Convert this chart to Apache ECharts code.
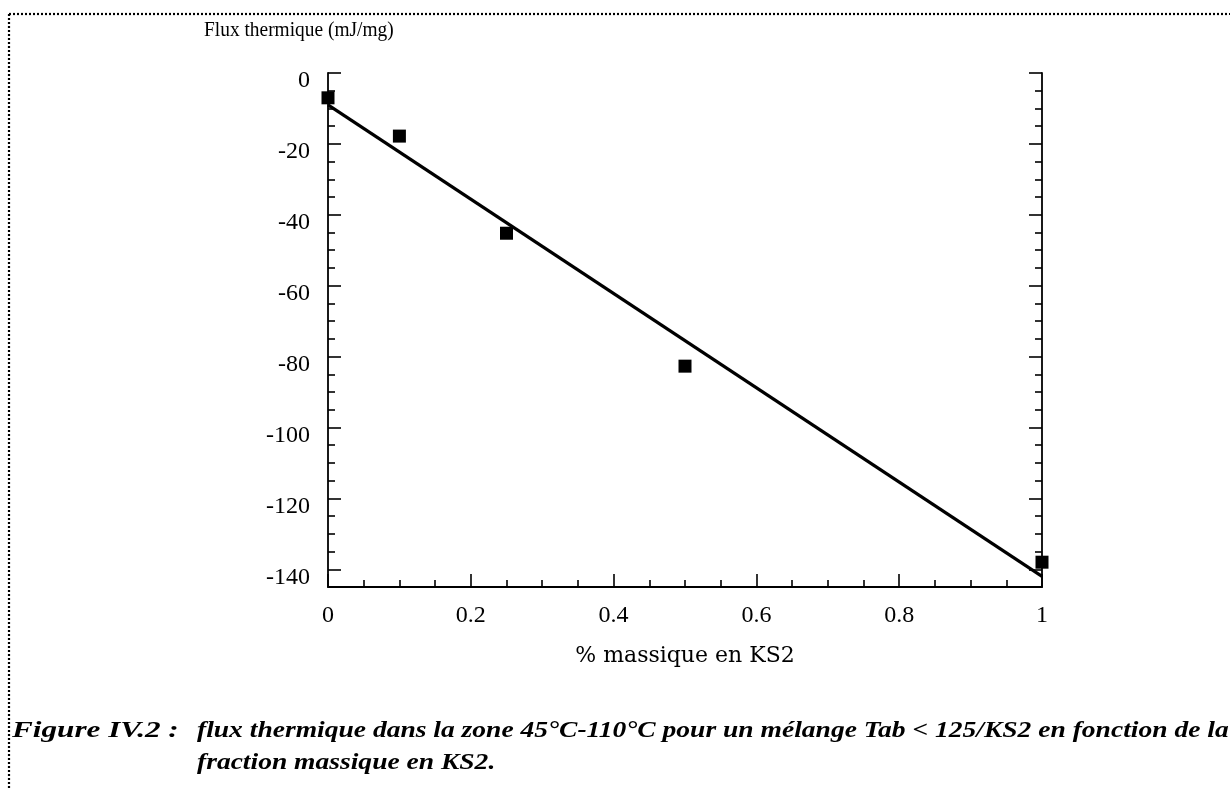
<!DOCTYPE html>
<html>
<head>
<meta charset="utf-8">
<script src="https://cdn.jsdelivr.net/npm/echarts@6/dist/echarts.min.js"></script>
<style>
  html, body { margin: 0; padding: 0; background: #fff; }
  #chart { width: 1230px; height: 788px; }
</style>
</head>
<body>
<div id="chart"></div>
<script>
// ---- data ----
const massFraction = [0, 0.1, 0.25, 0.5, 1];
const heatFlux = [-7, -17.8, -45.2, -82.7, -138];
const fitX = [0, 1];
const fitY = [-9, -142];
const yMajorTicks = [0, -20, -40, -60, -80, -100, -120, -140];
const xTickLabels = ['0', '0.2', '0.4', '0.6', '0.8', '1'];
const yTitle = 'Flux thermique (mJ/mg)';
const xTitle = '% massique en KS2';
const captionLabel = 'Figure IV.2 :';
const captionLine1 = 'flux thermique dans la zone 45°C-110°C pour un mélange Tab < 125/KS2 en fonction de la';
const captionLine2 = 'fraction massique en KS2.';

// minor ticks every 5 units (axis styling)
const yMinorTicks = [];
for (let v = -5; v > -145; v -= 5) { if (v % 20 !== 0) yMinorTicks.push(v); }

const TICK_FONT = 'Liberation Serif';
const TITLE_FONT = 'DejaVu Serif';

const chart = echarts.init(document.getElementById('chart'), null, { renderer: 'canvas' });

function makeY(position, ticks, len, showLine, showLabels) {
  return {
    type: 'value', min: -145, max: 0,
    position: position,
    splitLine: { show: false },
    axisLine: { show: showLine, lineStyle: { color: '#000', width: 1.8 } },
    axisTick: { show: true, inside: true, length: len, customValues: ticks,
                lineStyle: { color: '#000', width: 1.6 } },
    axisLabel: showLabels ? {
      show: true, customValues: ticks, margin: 18,
      fontFamily: TICK_FONT, fontSize: 24, color: '#000',
      verticalAlign: 'top', lineHeight: 16
    } : { show: false }
  };
}

const option = {
  backgroundColor: '#fff',
  animation: false,
  grid: { left: 328, right: 188, top: 73, bottom: 201, containLabel: false },
  xAxis: {
    type: 'value', min: 0, max: 1, interval: 0.2,
    name: xTitle, nameLocation: 'middle', nameGap: 58,
    nameTextStyle: { fontFamily: TITLE_FONT, fontSize: 22, color: '#000' },
    splitLine: { show: false },
    axisLine: { show: true, onZero: false, lineStyle: { color: '#000', width: 1.8 } },
    axisTick: { show: true, inside: true, length: 13, lineStyle: { color: '#000', width: 1.6 } },
    minorTick: { show: true, splitNumber: 4, length: 7, lineStyle: { color: '#000', width: 1.6 } },
    axisLabel: {
      margin: 17, fontFamily: TICK_FONT, fontSize: 24, color: '#000',
      formatter: function (v) { return xTickLabels[Math.round(v / 0.2)]; }
    }
  },
  yAxis: [
    makeY('left', yMajorTicks, 13, true, true),
    makeY('left', yMinorTicks, 7, false, false),
    makeY('right', yMajorTicks, 13, true, false),
    makeY('right', yMinorTicks, 7, false, false)
  ],
  series: [
    {
      type: 'line', yAxisIndex: 0, z: 2,
      data: fitX.map((x, i) => [x, fitY[i]]),
      showSymbol: false, symbol: 'none',
      lineStyle: { color: '#000', width: 3.2 },
      silent: true
    },
    {
      type: 'scatter', yAxisIndex: 0, z: 3,
      data: massFraction.map((x, i) => [x, heatFlux[i]]),
      symbol: 'rect', symbolSize: 13,
      itemStyle: { color: '#000', opacity: 1 }
    }
  ],
  graphic: [
    { type: 'line', shape: { x1: 9, y1: 14, x2: 1230, y2: 14 },
      style: { stroke: '#000', lineWidth: 2.2, lineDash: [2, 2] } },
    { type: 'line', shape: { x1: 9, y1: 14, x2: 9, y2: 788 },
      style: { stroke: '#000', lineWidth: 2.2, lineDash: [2, 2] } },
    { type: 'text', x: 204, y: 31, scaleX: 0.97,
      style: { text: yTitle, font: '20px "Liberation Serif"', fill: '#000', verticalAlign: 'middle', align: 'left' } },
    { type: 'text', x: 12, y: 731, scaleX: 1.3,
      style: { text: captionLabel, font: 'italic bold 24px "Liberation Serif"', fill: '#000', verticalAlign: 'middle', align: 'left' } },
    { type: 'text', x: 197, y: 731, scaleX: 1.147,
      style: { text: captionLine1, font: 'italic bold 24px "Liberation Serif"', fill: '#000', verticalAlign: 'middle', align: 'left' } },
    { type: 'text', x: 197, y: 763, scaleX: 1.147,
      style: { text: captionLine2, font: 'italic bold 24px "Liberation Serif"', fill: '#000', verticalAlign: 'middle', align: 'left' } }
  ]
};

chart.setOption(option);
</script>
</body>
</html>
